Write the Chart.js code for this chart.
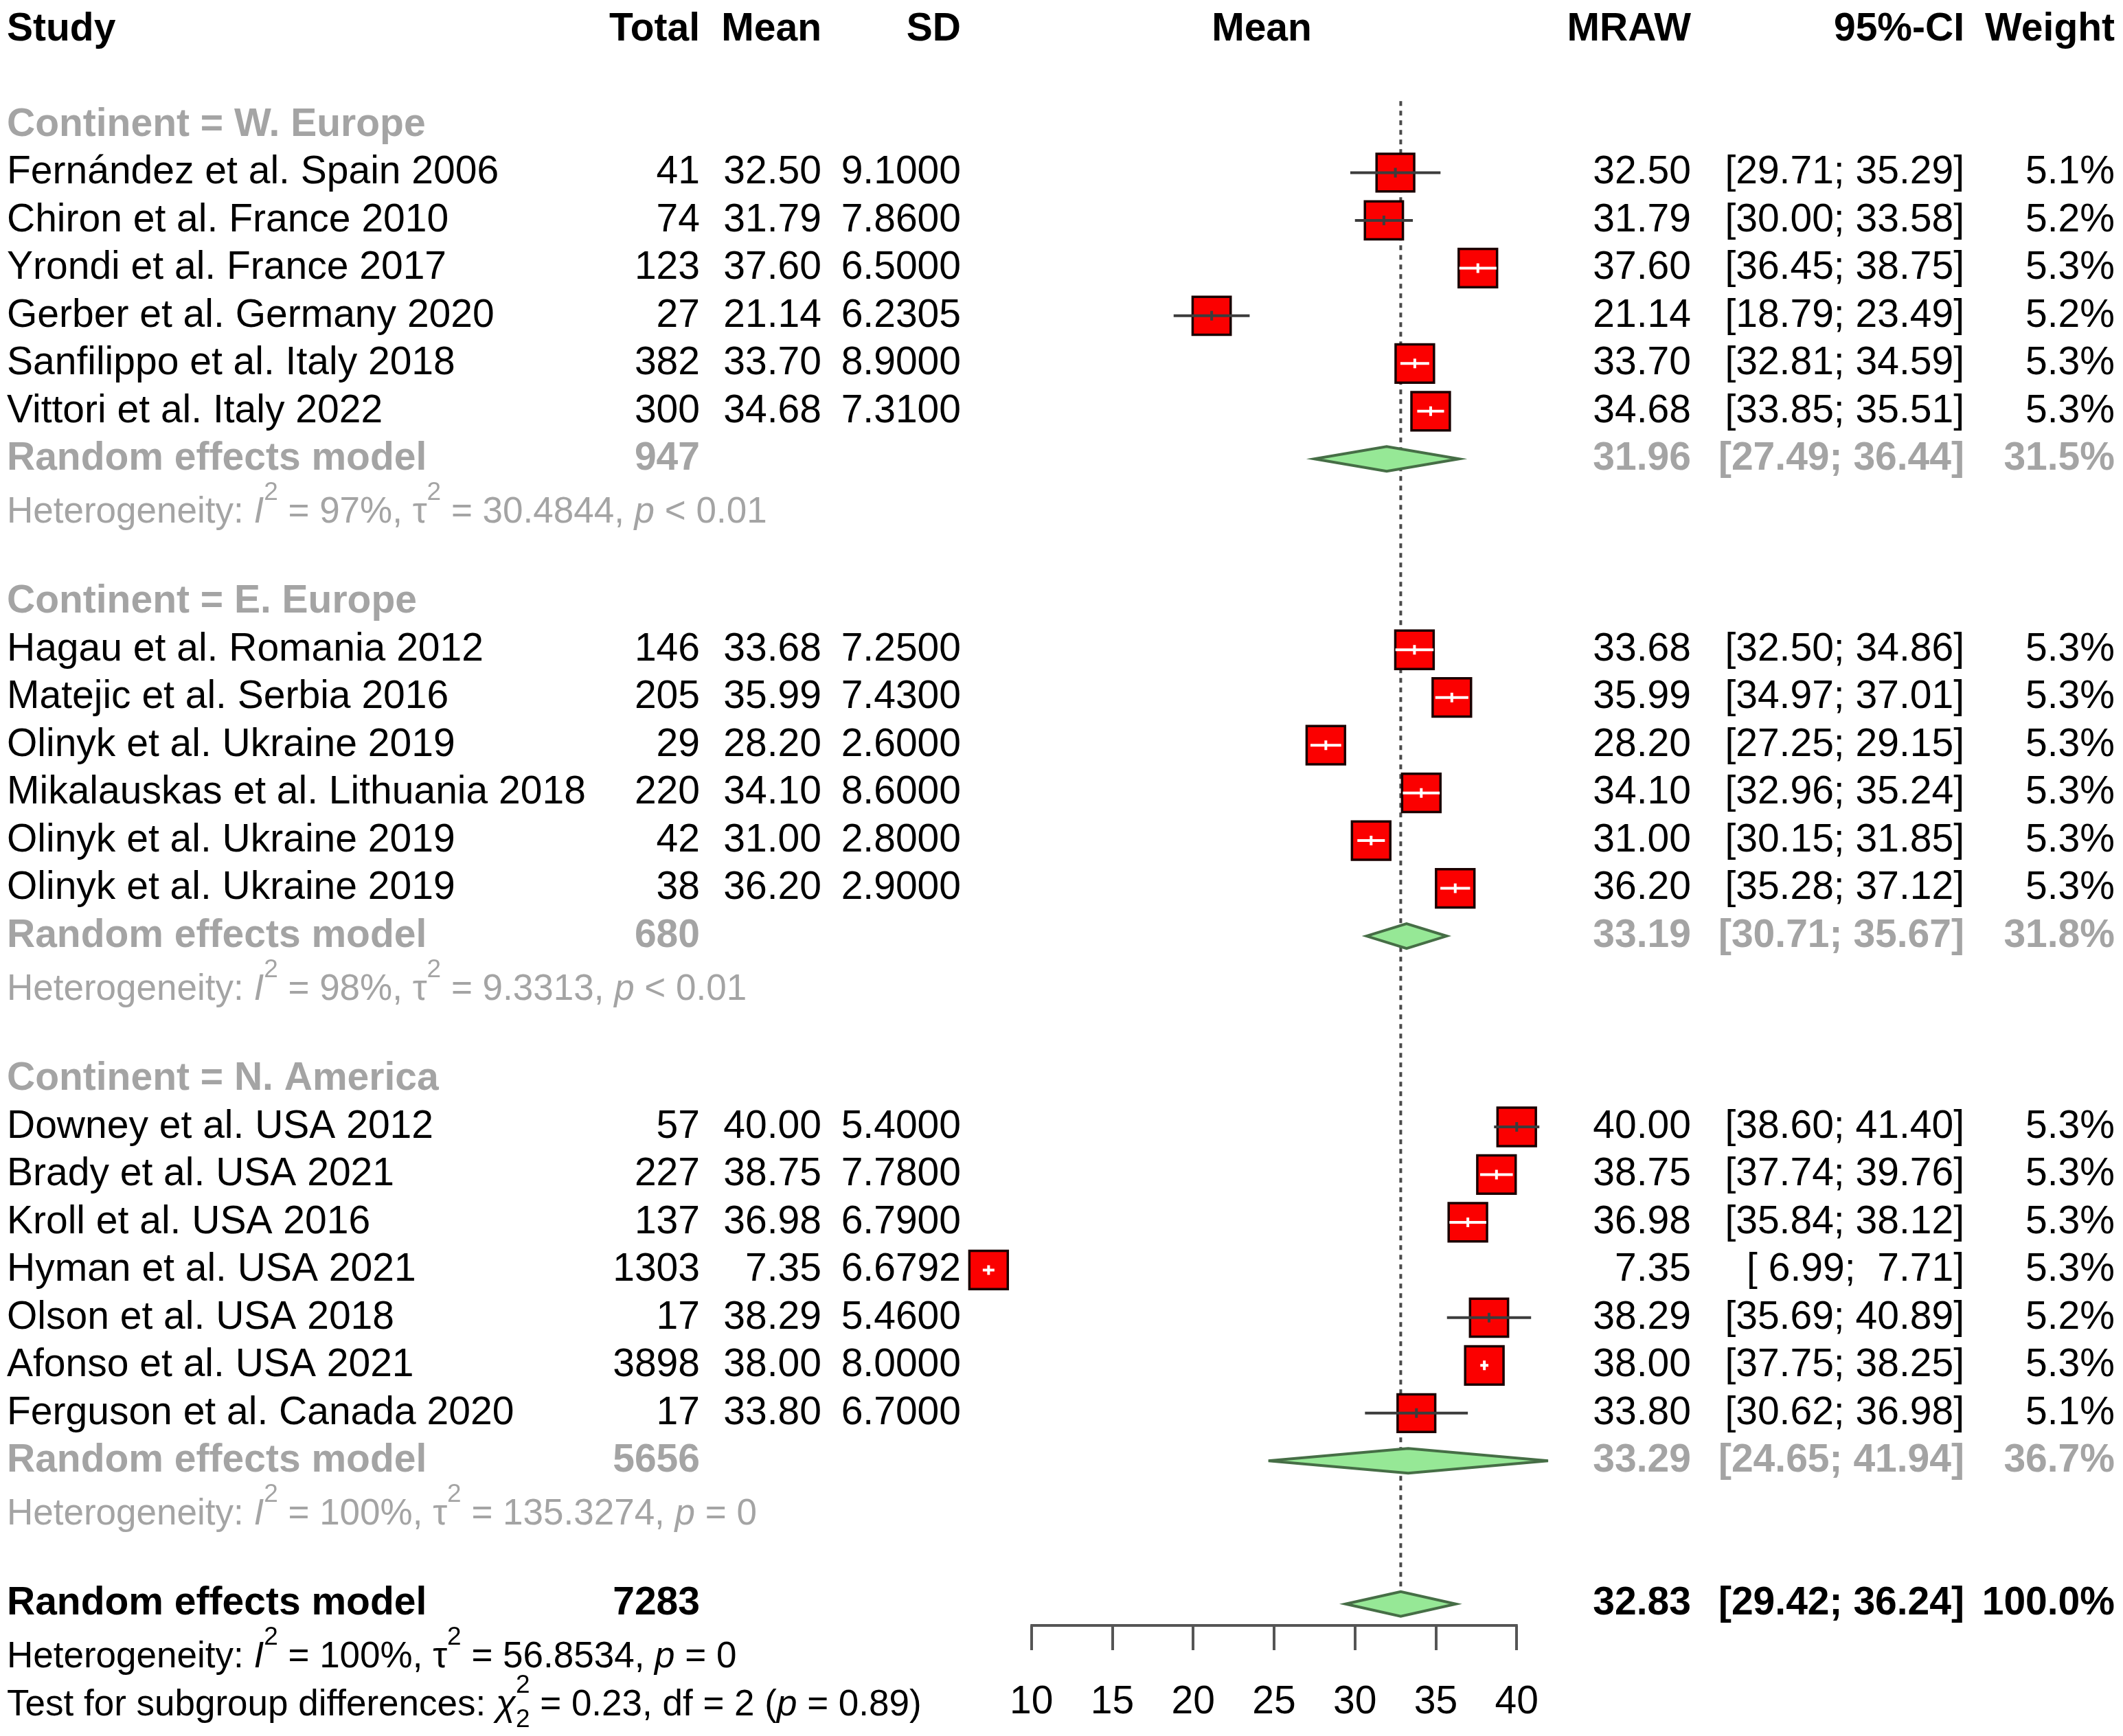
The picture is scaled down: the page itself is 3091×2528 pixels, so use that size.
<!DOCTYPE html>
<html>
<head>
<meta charset="utf-8">
<script src="https://cdn.jsdelivr.net/npm/chart.js@4.4.1/dist/chart.umd.min.js"></script>
<style>
  html, body { margin: 0; padding: 0; background: #fff; }
  canvas { display: block; }
</style>
</head>
<body>
<canvas id="forest" width="3091" height="2528"></canvas>
<script>
// ------------------------------------------------------------
// data
// ------------------------------------------------------------
const groupNames = ['W. Europe', 'E. Europe', 'N. America'];
const studyGroup = [0, 0, 0, 0, 0, 0, 1, 1, 1, 1, 1, 1, 2, 2, 2, 2, 2, 2, 2];
const studyNames = [
    'Fernández et al. Spain 2006', 'Chiron et al. France 2010', 'Yrondi et al. France 2017',
    'Gerber et al. Germany 2020', 'Sanfilippo et al. Italy 2018', 'Vittori et al. Italy 2022',
    'Hagau et al. Romania 2012', 'Matejic et al. Serbia 2016', 'Olinyk et al. Ukraine 2019',
    'Mikalauskas et al. Lithuania 2018', 'Olinyk et al. Ukraine 2019', 'Olinyk et al. Ukraine 2019',
    'Downey et al. USA 2012', 'Brady et al. USA 2021', 'Kroll et al. USA 2016',
    'Hyman et al. USA 2021', 'Olson et al. USA 2018', 'Afonso et al. USA 2021',
    'Ferguson et al. Canada 2020'
];
const studyTotals = [41, 74, 123, 27, 382, 300, 146, 205, 29, 220, 42, 38, 57, 227, 137, 1303, 17, 3898, 17];
const studyMeans = [32.50, 31.79, 37.60, 21.14, 33.70, 34.68, 33.68, 35.99, 28.20, 34.10, 31.00, 36.20,
    40.00, 38.75, 36.98, 7.35, 38.29, 38.00, 33.80];
const studySDs = [9.1000, 7.8600, 6.5000, 6.2305, 8.9000, 7.3100, 7.2500, 7.4300, 2.6000, 8.6000, 2.8000, 2.9000,
    5.4000, 7.7800, 6.7900, 6.6792, 5.4600, 8.0000, 6.7000];
const studyLow = [29.71, 30.00, 36.45, 18.79, 32.81, 33.85, 32.50, 34.97, 27.25, 32.96, 30.15, 35.28,
    38.60, 37.74, 35.84, 6.99, 35.69, 37.75, 30.62];
const studyHigh = [35.29, 33.58, 38.75, 23.49, 34.59, 35.51, 34.86, 37.01, 29.15, 35.24, 31.85, 37.12,
    41.40, 39.76, 38.12, 7.71, 40.89, 38.25, 36.98];
const studyWeights = [5.1, 5.2, 5.3, 5.2, 5.3, 5.3, 5.3, 5.3, 5.3, 5.3, 5.3, 5.3, 5.3, 5.3, 5.3, 5.3, 5.2, 5.3, 5.1];

const groupTotals = [947, 680, 5656];
const groupMeans = [31.96, 33.19, 33.29];
const groupLow = [27.49, 30.71, 24.65];
const groupHigh = [36.44, 35.67, 41.94];
const groupWeights = [31.5, 31.8, 36.7];
const groupI2 = ['97%', '98%', '100%'];
const groupTau2 = ['30.4844', '9.3313', '135.3274'];
const groupP = ['< 0.01', '< 0.01', '= 0'];

const overallTotal = 7283;
const overallMean = 32.83;
const overallLow = 29.42;
const overallHigh = 36.24;
const overallWeight = 100.0;
const overallI2 = '100%';
const overallTau2 = '56.8534';
const overallP = '= 0';
const subgroupChi2 = '0.23';
const subgroupDf = '2';
const subgroupP = '0.89';

const xTicks = [10, 15, 20, 25, 30, 35, 40];

// ------------------------------------------------------------
// layout
// ------------------------------------------------------------
const FONT = '"Liberation Sans", Arial, Helvetica, sans-serif';
const FS = 57;          // main text size
const FS_HET = 53;      // heterogeneity lines
const GRAY = '#a4a4a4';
const AXIS_ROW = 33.45; // row where the x axis sits
const DIAMOND_H = 18;
const COL = { study: 10, total: 1019, mean: 1196, sd: 1399, plot: 1837, mraw: 2462, ci: 2860, weight: 3079 };

// row index of every line of the table
const studyRows = [];
const groupRows = [];
let r = 2;
groupNames.forEach((g, gi) => {
    const label = r;
    r++;
    studyGroup.forEach((sg, i) => { if (sg === gi) { studyRows[i] = r; r++; } });
    groupRows.push({ label: label, rem: r, het: r + 1 });
    r += 3;
});
const overallRow = r;

const fmtNum = (v) => (v < 10 ? ' ' : '') + v.toFixed(2);
const fmtCI = (lo, hi) => '[' + fmtNum(lo) + '; ' + fmtNum(hi) + ']';
const fontStr = (size, bold, italic) => (italic ? 'italic ' : '') + (bold ? 'bold ' : '') + size + 'px ' + FONT;

function txt(ctx, s, x, y, align, size, bold, color) {
    ctx.font = fontStr(size, bold, false);
    ctx.fillStyle = color;
    ctx.textAlign = align;
    ctx.textBaseline = 'middle';
    ctx.fillText(s, x, y);
}

// text with italic letters, superscripts and subscripts
function rich(ctx, segs, x, y, size, color) {
    ctx.fillStyle = color;
    ctx.textAlign = 'left';
    ctx.textBaseline = 'alphabetic';
    const base = y + size * 0.36 + 4;
    const small = Math.round(size * 0.7);
    let cx = x;
    segs.forEach(([s, kind]) => {
        if (kind === 'sup' || kind === 'sub' || kind === 'supsub') {
            ctx.font = fontStr(small, false, false);
            if (kind !== 'sub') ctx.fillText(s, cx, base - size * 0.62);
            if (kind !== 'sup') ctx.fillText(s, cx, base + size * 0.32);
            cx += ctx.measureText(s).width;
        } else {
            ctx.font = fontStr(size, false, kind === 'i');
            ctx.fillText(s, cx, base);
            cx += ctx.measureText(s).width;
        }
    });
}

function hetSegs(i2, tau2, p) {
    return [['Heterogeneity: ', ''], ['I', 'i'], ['2', 'sup'], [' = ' + i2 + ', ', ''],
        ['τ', ''], ['2', 'sup'], [' = ' + tau2 + ', ', ''], ['p', 'i'], [' ' + p, '']];
}

function diamond(ctx, x, yPix, lo, mid, hi) {
    ctx.beginPath();
    ctx.moveTo(x.getPixelForValue(lo), yPix);
    ctx.lineTo(x.getPixelForValue(mid), yPix - DIAMOND_H);
    ctx.lineTo(x.getPixelForValue(hi), yPix);
    ctx.lineTo(x.getPixelForValue(mid), yPix + DIAMOND_H);
    ctx.closePath();
    ctx.fillStyle = '#96e896';
    ctx.fill();
    ctx.strokeStyle = '#466e46';
    ctx.lineWidth = 4;
    ctx.stroke();
}

const squareRadius = studyWeights.map(w => 39.5 * Math.sqrt(w / 5.3));

const forestPlugin = {
    id: 'forestPlot',
    beforeDatasetsDraw(chart) {
        const ctx = chart.ctx;
        const x = chart.scales.x, y = chart.scales.y;
        ctx.save();
        // x axis base line, only across the tick range
        ctx.strokeStyle = '#555555';
        ctx.lineWidth = 4;
        ctx.beginPath();
        ctx.moveTo(x.getPixelForValue(xTicks[0]) - 1.5, chart.chartArea.bottom);
        ctx.lineTo(x.getPixelForValue(xTicks[xTicks.length - 1]) + 1.5, chart.chartArea.bottom);
        ctx.stroke();
        // dotted line at the overall estimate
        const xr = x.getPixelForValue(overallMean);
        ctx.strokeStyle = '#4a4a4a';
        ctx.lineWidth = 4;
        ctx.setLineDash([7, 7]);
        ctx.beginPath();
        ctx.moveTo(xr, y.getPixelForValue(1.5));
        ctx.lineTo(xr, y.getPixelForValue(overallRow) - DIAMOND_H);
        ctx.stroke();
        ctx.setLineDash([]);
        // pooled diamonds
        groupRows.forEach((g, gi) => {
            diamond(ctx, x, y.getPixelForValue(g.rem), groupLow[gi], groupMeans[gi], groupHigh[gi]);
        });
        diamond(ctx, x, y.getPixelForValue(overallRow), overallLow, overallMean, overallHigh);
        ctx.restore();
    },
    afterDatasetsDraw(chart) {
        const ctx = chart.ctx;
        const x = chart.scales.x, y = chart.scales.y;
        ctx.save();
        // confidence intervals
        studyMeans.forEach((m, i) => {
            const yp = y.getPixelForValue(studyRows[i]);
            const x0 = x.getPixelForValue(studyLow[i]);
            const x1 = x.getPixelForValue(studyHigh[i]);
            const xm = x.getPixelForValue(m);
            const side = squareRadius[i] * Math.SQRT2;
            const inside = (x1 - x0) <= side;
            ctx.strokeStyle = inside ? '#ffffff' : '#3c3c3c';
            ctx.lineWidth = 4;
            ctx.beginPath();
            ctx.moveTo(x0, yp);
            ctx.lineTo(x1, yp);
            ctx.moveTo(xm, yp - 7);
            ctx.lineTo(xm, yp + 7);
            ctx.stroke();
        });

        // table text
        const yy = (row) => y.getPixelForValue(row);
        const h = yy(0);
        txt(ctx, 'Study', COL.study, h, 'left', FS, true, '#000');
        txt(ctx, 'Total', COL.total, h, 'right', FS, true, '#000');
        txt(ctx, 'Mean', COL.mean, h, 'right', FS, true, '#000');
        txt(ctx, 'SD', COL.sd, h, 'right', FS, true, '#000');
        txt(ctx, 'Mean', COL.plot, h, 'center', FS, true, '#000');
        txt(ctx, 'MRAW', COL.mraw, h, 'right', FS, true, '#000');
        txt(ctx, '95%-CI', COL.ci, h, 'right', FS, true, '#000');
        txt(ctx, 'Weight', COL.weight, h, 'right', FS, true, '#000');

        studyNames.forEach((name, i) => {
            const yp = yy(studyRows[i]);
            txt(ctx, name, COL.study, yp, 'left', FS, false, '#000');
            txt(ctx, String(studyTotals[i]), COL.total, yp, 'right', FS, false, '#000');
            txt(ctx, studyMeans[i].toFixed(2), COL.mean, yp, 'right', FS, false, '#000');
            txt(ctx, studySDs[i].toFixed(4), COL.sd, yp, 'right', FS, false, '#000');
            txt(ctx, fmtNum(studyMeans[i]), COL.mraw, yp, 'right', FS, false, '#000');
            txt(ctx, fmtCI(studyLow[i], studyHigh[i]), COL.ci, yp, 'right', FS, false, '#000');
            txt(ctx, studyWeights[i].toFixed(1) + '%', COL.weight, yp, 'right', FS, false, '#000');
        });

        groupRows.forEach((g, gi) => {
            txt(ctx, 'Continent = ' + groupNames[gi], COL.study, yy(g.label), 'left', FS, true, GRAY);
            const yp = yy(g.rem);
            txt(ctx, 'Random effects model', COL.study, yp, 'left', FS, true, GRAY);
            txt(ctx, String(groupTotals[gi]), COL.total, yp, 'right', FS, true, GRAY);
            txt(ctx, groupMeans[gi].toFixed(2), COL.mraw, yp, 'right', FS, true, GRAY);
            txt(ctx, fmtCI(groupLow[gi], groupHigh[gi]), COL.ci, yp, 'right', FS, true, GRAY);
            txt(ctx, groupWeights[gi].toFixed(1) + '%', COL.weight, yp, 'right', FS, true, GRAY);
            rich(ctx, hetSegs(groupI2[gi], groupTau2[gi], groupP[gi]), COL.study, yy(g.het), FS_HET, GRAY);
        });

        const yo = yy(overallRow);
        txt(ctx, 'Random effects model', COL.study, yo, 'left', FS, true, '#000');
        txt(ctx, String(overallTotal), COL.total, yo, 'right', FS, true, '#000');
        txt(ctx, overallMean.toFixed(2), COL.mraw, yo, 'right', FS, true, '#000');
        txt(ctx, fmtCI(overallLow, overallHigh), COL.ci, yo, 'right', FS, true, '#000');
        txt(ctx, overallWeight.toFixed(1) + '%', COL.weight, yo, 'right', FS, true, '#000');
        rich(ctx, hetSegs(overallI2, overallTau2, overallP), COL.study, yy(overallRow + 1), FS_HET, '#000');
        rich(ctx, [['Test for subgroup differences: ', ''], ['χ', 'i'], ['2', 'supsub'],
            [' = ' + subgroupChi2 + ', df = ' + subgroupDf + ' (', ''], ['p', 'i'], [' = ' + subgroupP + ')', '']],
            COL.study, yy(overallRow + 2), FS_HET, '#000');
        ctx.restore();
    }
};

Chart.defaults.font.family = FONT;

// the x range is widened past the ticks so that Hyman (7.35) is still drawn
const ctx = document.getElementById('forest');
new Chart(ctx, {
    type: 'scatter',
    data: {
        datasets: [{
            data: studyMeans.map((m, i) => ({ x: m, y: studyRows[i] })),
            pointStyle: 'rect',
            pointRadius: squareRadius,
            pointHoverRadius: squareRadius,
            pointBackgroundColor: '#fb0000',
            pointBorderColor: '#1a0000',
            pointBorderWidth: 3.5,
            clip: false
        }]
    },
    options: {
        responsive: false,
        devicePixelRatio: 1,
        animation: false,
        events: [],
        layout: { padding: { left: 1384, right: 765, top: 31, bottom: 0 } },
        plugins: {
            legend: { display: false },
            tooltip: { enabled: false }
        },
        scales: {
            x: {
                type: 'linear',
                min: 5,
                max: 45,
                position: 'bottom',
                afterBuildTicks: (s) => { s.ticks = xTicks.map(v => ({ value: v })); },
                afterFit: (s) => { s.height = 161; },
                ticks: {
                    color: '#000',
                    font: { size: FS },
                    padding: 42,
                    maxRotation: 0
                },
                grid: {
                    drawOnChartArea: false,
                    drawTicks: true,
                    tickLength: 36,
                    color: '#555555',
                    lineWidth: 4
                },
                border: { display: false }
            },
            y: {
                type: 'linear',
                min: 0,
                max: AXIS_ROW,
                reverse: true,
                display: false
            }
        }
    },
    plugins: [forestPlugin]
});
</script>
</body>
</html>
